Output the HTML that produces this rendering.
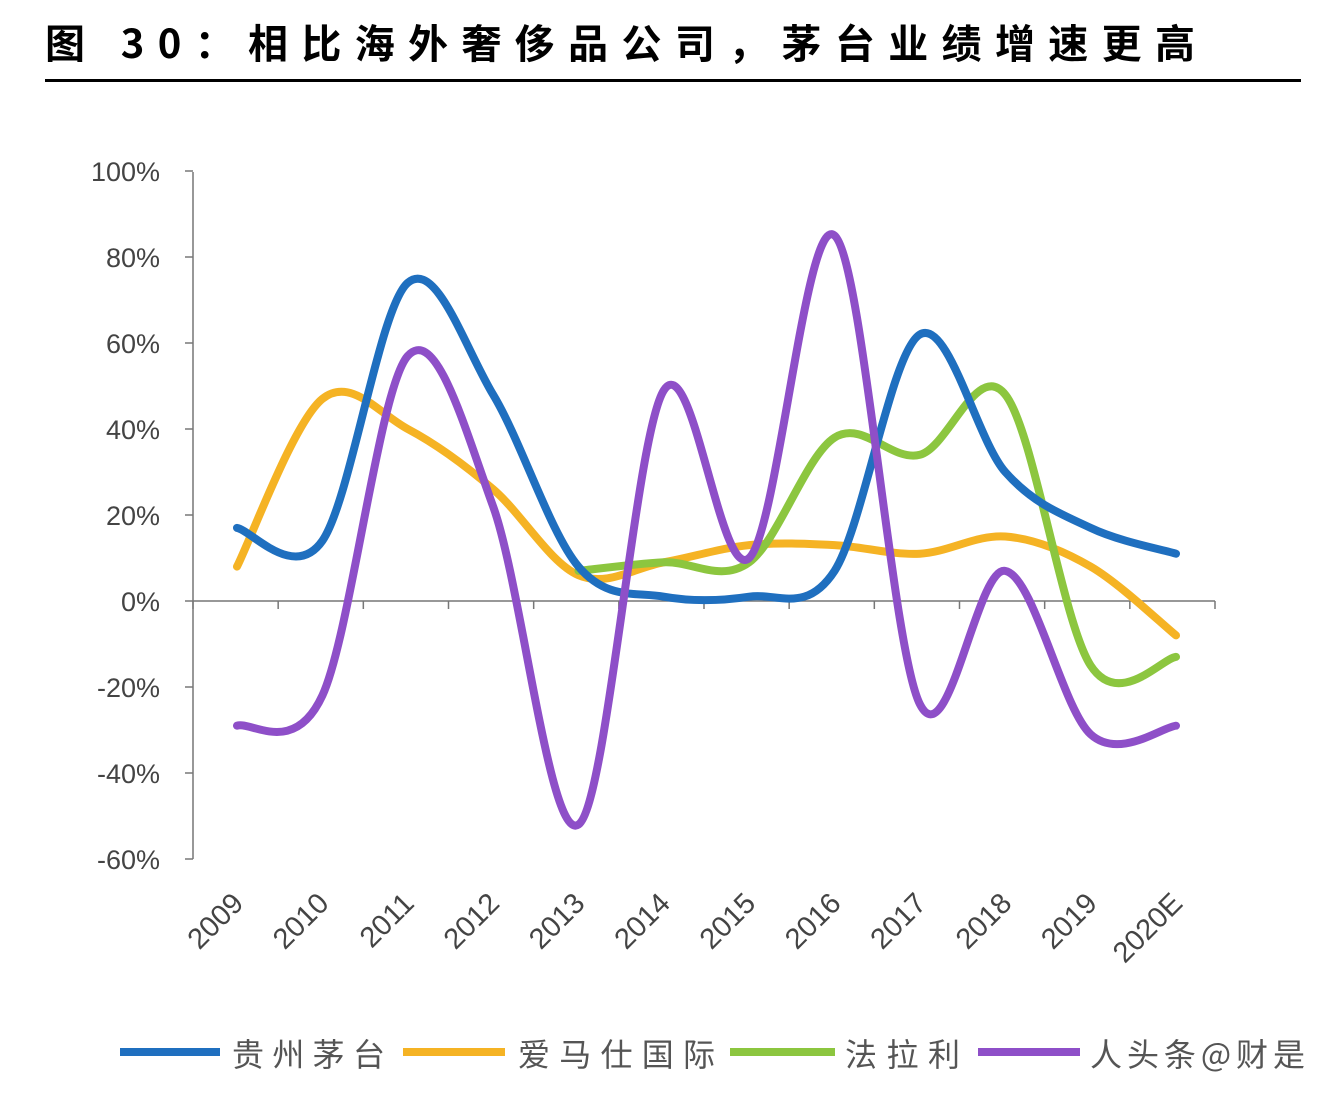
<!DOCTYPE html>
<html><head><meta charset="utf-8">
<style>
html,body{margin:0;padding:0;background:#fff;width:1336px;height:1096px;overflow:hidden}
svg{display:block}
</style></head><body>
<svg id="s" width="1336" height="1096" xmlns="http://www.w3.org/2000/svg" font-family="Liberation Sans, Noto Sans CJK SC, sans-serif">
<text x="45" y="58" font-size="40" font-weight="bold" fill="#000" font-family="Noto Sans CJK SC, sans-serif" textLength="1150" lengthAdjust="spacing">图 30：相比海外奢侈品公司，茅台业绩增速更高</text>
<rect x="45" y="79" width="1256" height="3" fill="#000"/>
<g id="axes" stroke="#777" stroke-width="1.5" fill="none"></g>
<g id="lbl" font-size="27" fill="#444"></g>
<g id="series" fill="none" stroke-width="8" stroke-linecap="round" stroke-linejoin="round"></g>
<g font-size="32" fill="#555" font-family="Noto Sans CJK SC, sans-serif">
<rect x="120" y="1048" width="100" height="8" fill="#1f6fbf"/>
<text x="232" y="1066" textLength="153" lengthAdjust="spacing">贵州茅台</text>
<rect x="403" y="1048" width="102" height="8" fill="#f5b324"/>
<text x="518" y="1066" textLength="197" lengthAdjust="spacing">爱马仕国际</text>
<rect x="730" y="1048" width="105" height="8" fill="#8cc63f"/>
<text x="845" y="1066" textLength="115" lengthAdjust="spacing">法拉利</text>
<rect x="978" y="1048" width="102" height="8" fill="#8e4fc8"/>
<text x="1090" y="1066" textLength="215" lengthAdjust="spacing">人头条@财是</text>
</g>
</svg>
<script>
var NS="http://www.w3.org/2000/svg";
function el(p,t,a,txt){var e=document.createElementNS(NS,t);for(var k in a)e.setAttribute(k,a[k]);if(txt)e.textContent=txt;p.appendChild(e);return e;}
var ax=document.getElementById('axes'),lb=document.getElementById('lbl'),sr=document.getElementById('series');
function Y(v){return 601-v*4.3;}
var x0=193,x1=1215,step=(x1-x0)/12;
el(ax,'line',{x1:x0,y1:172,x2:x0,y2:859});
el(ax,'line',{x1:x0,y1:601,x2:x1,y2:601});
for(var v=100;v>=-60;v-=20){var y=Y(v);el(ax,'line',{x1:x0-8,y1:y,x2:x0,y2:y});
el(lb,'text',{x:160,y:y+10,'text-anchor':'end'},v+'%');}
for(var k=0;k<=12;k++){var x=x0+k*step;el(ax,'line',{x1:x,y1:601,x2:x,y2:609});}
var yrs=['2009','2010','2011','2012','2013','2014','2015','2016','2017','2018','2019','2020E'];
function X(i){return 237+i*(1176-237)/11;}
yrs.forEach(function(t,i){var x=X(i)+8,y=905;el(lb,'text',{x:x,y:y,'text-anchor':'end','font-size':29,transform:'rotate(-45 '+x+' '+y+')'},t);});
function path(pts){var d='M'+pts[0][0]+','+pts[0][1];for(var i=0;i<pts.length-1;i++){var p0=pts[i-1]||pts[i],p1=pts[i],p2=pts[i+1],p3=pts[i+2]||p2;
d+=' C'+(p1[0]+(p2[0]-p0[0])/6)+','+(p1[1]+(p2[1]-p0[1])/6)+' '+(p2[0]-(p3[0]-p1[0])/6)+','+(p2[1]-(p3[1]-p1[1])/6)+' '+p2[0]+','+p2[1];}return d;}
function ser(vals,col,start){var pts=vals.map(function(v,i){return [X(i+start),Y(v)];});el(sr,'path',{d:path(pts),stroke:col});}
ser([8,47,40,26,6,9,13,13,11,15,8,-8],'#f5b324',0);
ser([7,9,9,38,34,48,-15,-13],'#8cc63f',4);
ser([17,14,74,48,8,1,1,7,62,30,17,11],'#1f6fbf',0);
ser([-29,-22,57,22,-52,49,10,85,-24,7,-31,-29],'#8e4fc8',0);
</script>
</body></html>
